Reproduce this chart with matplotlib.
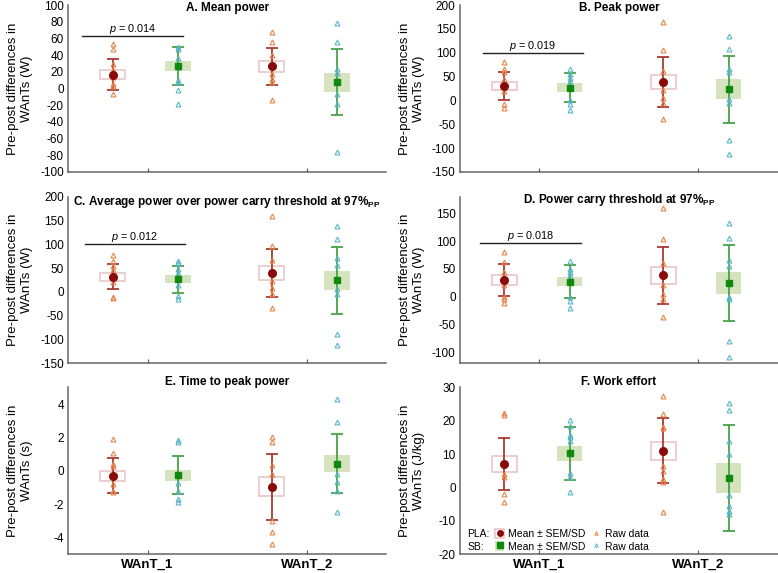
import matplotlib
matplotlib.use("Agg")
import matplotlib.pyplot as plt
from matplotlib.patches import Rectangle
from matplotlib.lines import Line2D

plt.rcParams['font.family'] = ['Liberation Sans', 'DejaVu Sans']
plt.rcParams['mathtext.fontset'] = 'custom'
plt.rcParams['mathtext.rm'] = 'Liberation Sans'
plt.rcParams['mathtext.it'] = 'Liberation Sans:italic'
plt.rcParams['mathtext.bf'] = 'Liberation Sans:bold'
plt.rcParams['axes.unicode_minus'] = False

# order of every list: PLA WAnT_1, SB WAnT_1, PLA WAnT_2, SB WAnT_2
groups = ['WAnT_1', 'WAnT_2']

a_mean = [16.5, 27, 26.5, 7.5]
a_sem = [5.5, 6.5, 6.5, 11.5]
a_sd = [18.5, 22.5, 22.5, 39.5]
a_raw = [[53, 47, 30, 22, 14, 5, 3, -6],
         [50, 47, 37, 26, 10, 8, -2, -18],
         [68, 56, 40, 28, 18, 12, 8, -14],
         [78, 56, 24, 19, -6, -18, -76]]

b_mean = [30.5, 27, 39, 23.5]
b_sem = [9, 9, 14.5, 21]
b_sd = [29, 30, 52, 70.5]
b_raw = [[80, 66, 60, 45, 30, 20, -8, -16],
         [65, 55, 48, 40, 0, -8, -21],
         [164, 105, 62, 22, 5, -5, -38],
         [136, 108, 67, 60, 2, -5, -84, -112]]

c_mean = [31.5, 26, 39.5, 24]
c_sem = [8.5, 8.5, 14.5, 20.5]
c_sd = [26.5, 29, 50.5, 71]
c_raw = [[77, 65, 55, 45, 35, 20, -10, -12],
         [65, 60, 48, 40, 15, -8, -16],
         [160, 97, 66, 22, 7, -5, -34],
         [138, 110, 70, 57, 5, -5, -89, -112]]

d_mean = [30, 27, 38.5, 24]
d_sem = [8.5, 8.5, 15.5, 19.5]
d_sd = [28.5, 29, 51.5, 68]
d_raw = [[80, 63, 45, 30, 20, 0, -4, -12],
         [64, 50, 45, 38, 0, -8, -20],
         [160, 103, 60, 20, 5, -5, -37],
         [133, 106, 65, 55, 0, -5, -80, -109]]

e_mean = [-0.3, -0.26, -0.97, 0.42]
e_sem = [0.3, 0.33, 0.57, 0.5]
e_sd = [1.05, 1.13, 1.97, 1.76]
e_raw = [[1.9, 1.05, 0.4, 0.3, -0.8, -1.2, -1.3],
         [1.85, 1.7, -0.75, -1.2, -1.7, -1.85],
         [2.0, 1.75, 0.35, -0.2, -3.0, -3.7, -4.4],
         [4.3, 2.9, -0.2, -0.7, -1.2, -2.45]]

f_mean = [7, 10.2, 11, 2.8]
f_sem = [2.35, 2.3, 2.75, 4.6]
f_sd = [7.9, 8, 9.7, 15.9]
f_raw = [[22.3, 21.8, 4, 3, -2, -4.3],
         [20.3, 18.5, 15.8, 15, 13.8, 4.2, 3.2, -1.5],
         [27.3, 22.1, 18, 17.8, 6.5, 5, 2.5, 1.5, -7.4],
         [25.4, 23.1, 14, 10, -2.4, -5.5, -7, -8]]

titles = ['A. Mean power', 'B. Peak power',
          r'C. Average power over power carry threshold at 97%$_{\mathbf{PP}}$',
          r'D. Power carry threshold at 97%$_{\mathbf{PP}}$',
          'E. Time to peak power', 'F. Work effort']
ylabels = ['Pre-post differences in\nWAnTs (W)'] * 4 + \
          ['Pre-post differences in\nWAnTs (s)', 'Pre-post differences in\nWAnTs (J/kg)']
p_values = ['0.014', '0.019', '0.012', '0.018']
p_bars = [(0.09, 0.72, 63), (0.145, 0.776, 100), (0.107, 0.736, 100), (0.13, 0.76, 97)]

# colours
pla_bar, pla_dot, pla_edge, pla_raw = '#a83a32', '#8b0a0a', '#e9c6c6', '#e8844a'
sb_bar, sb_dot, sb_face, sb_raw = '#46a346', '#0f8a0f', '#d5e3bf', '#5ab6c9'

means = [a_mean, b_mean, c_mean, d_mean, e_mean, f_mean]
sems = [a_sem, b_sem, c_sem, d_sem, e_sem, f_sem]
sds = [a_sd, b_sd, c_sd, d_sd, e_sd, f_sd]
raws = [a_raw, b_raw, c_raw, d_raw, e_raw, f_raw]
ylims = [(-100, 100), (-150, 200), (-150, 200), (-120, 180), (-5, 5), (-20, 30)]
yticks = [range(-100, 101, 20), range(-150, 201, 50), range(-150, 201, 50),
          range(-100, 151, 50), range(-4, 5, 2), range(-20, 31, 10)]
title_y = [0.985, 0.985, 0.97, 0.98, 1.035, 1.035]

lefts = [0.0874, 0.591]
bottoms = [0.700, 0.366, 0.033]
w, h = 0.409, 0.291

fig = plt.figure(figsize=(7.78, 5.73), dpi=100)
offsets = [-0.22, 0.19, -0.22, 0.19]
centers = [0.5, 0.5, 1.5, 1.5]
bw = 0.16

for i in range(6):
    ax = fig.add_axes([lefts[i % 2], bottoms[i // 2], w, h])
    for j in range(4):
        x = centers[j] + offsets[j]
        pla = j % 2 == 0
        m, se, sd = means[i][j], sems[i][j], sds[i][j]
        if pla:
            ax.add_patch(Rectangle((x - bw / 2, m - se), bw, 2 * se, facecolor='white',
                                   edgecolor=pla_edge, linewidth=1.2, zorder=1))
        else:
            ax.add_patch(Rectangle((x - bw / 2, m - se), bw, 2 * se, facecolor=sb_face,
                                   edgecolor='none', zorder=1))
        ax.errorbar([x], [m], yerr=[sd], fmt='none', ecolor=pla_bar if pla else sb_bar,
                    elinewidth=1.3, capsize=4.5, capthick=1.3, zorder=2)
        ax.plot([x] * len(raws[i][j]), raws[i][j], linestyle='none', marker='^',
                markersize=3.5, markerfacecolor='none', markeredgewidth=0.8,
                markeredgecolor=pla_raw if pla else sb_raw, zorder=3)
        ax.plot([x], [m], linestyle='none', marker='o' if pla else 's',
                markersize=5.5 if pla else 5, color=pla_dot if pla else sb_dot, zorder=4)

    ax.set_xlim(0, 2)
    ax.set_ylim(*ylims[i])
    ax.set_yticks(list(yticks[i]))
    ax.set_xticks([0.5, 1.5])
    if i >= 4:
        ax.set_xticklabels(groups, fontsize=9.5, fontweight='bold')
    else:
        ax.set_xticklabels([])
    ax.tick_params(axis='x', direction='in', length=3, color='#595959')
    ax.tick_params(axis='y', length=0, labelsize=8.5, pad=3)
    for s in ['top', 'right']:
        ax.spines[s].set_visible(False)
    for s in ['left', 'bottom']:
        ax.spines[s].set_color('#666666')
        ax.spines[s].set_linewidth(1.1)
    ax.set_ylabel(ylabels[i], fontsize=9.5)
    ax.yaxis.set_label_coords(-0.11, 0.5)
    ax.text(0.5, title_y[i], titles[i], transform=ax.transAxes, ha='center', va='center',
            fontsize=8.5, fontweight='bold')

    if i < 4:
        x0, x1, yb = p_bars[i]
        ax.plot([x0, x1], [yb, yb], color='#222222', linewidth=1.0)
        ax.text((x0 + x1) / 2, yb, r'$\it{p}$ = ' + p_values[i], ha='center', va='bottom',
                fontsize=7.8)

    if i == 5:
        blank = Line2D([], [], linestyle='none')
        h_pla = (Rectangle((0, 0), 1, 1, facecolor='white', edgecolor=pla_edge, linewidth=1.2),
                 Line2D([], [], linestyle='none', marker='o', markersize=4, color=pla_dot))
        h_sb = (Rectangle((0, 0), 1, 1, facecolor=sb_face, edgecolor='none'),
                Line2D([], [], linestyle='none', marker='s', markersize=4, color=sb_dot))
        r_pla = Line2D([], [], linestyle='none', marker='^', markersize=2.5,
                       markerfacecolor='none', markeredgecolor=pla_raw, markeredgewidth=0.7)
        r_sb = Line2D([], [], linestyle='none', marker='^', markersize=2.5,
                      markerfacecolor='none', markeredgecolor=sb_raw, markeredgewidth=0.7)
        ax.legend([blank, blank, h_pla, h_sb, r_pla, r_sb],
                  ['PLA:', 'SB:', 'Mean \u00b1 SEM/SD', 'Mean \u00b1 SEM/SD', 'Raw data', 'Raw data'],
                  ncol=3, loc='lower left', bbox_to_anchor=(-0.045, -0.035), frameon=False,
                  fontsize=7.5, handlelength=0.9, handleheight=1.0, handletextpad=0.4,
                  columnspacing=0.5, labelspacing=0.25, borderpad=0.3)

fig.savefig('out.png', dpi=100)
